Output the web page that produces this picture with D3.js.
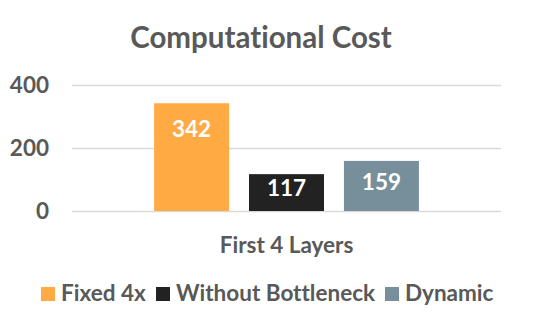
<!DOCTYPE html>
<html>
<head>
<meta charset="utf-8">
<script src="https://cdn.jsdelivr.net/npm/d3@7"></script>
<style>
  body { margin: 0; background: #fff; }
  svg text { font-family: Lato, "Open Sans", sans-serif; font-weight: bold; font-variant-ligatures: none; }
</style>
</head>
<body>
<div class="chart-area"></div>
<script>
// chart data
const categories = ["First 4 Layers"];
const seriesNames = ["Fixed 4x", "Without Bottleneck", "Dynamic"];
const seriesValues = [342, 117, 159];
const seriesColors = ["#FFAA42", "#222222", "#778F9A"];
const yTicks = [0, 200, 400];

const width = 543, height = 327;
const margin = {top: 85, right: 42, bottom: 116, left: 72};
const fs = "22.5px";

const svg = d3.select(".chart-area").append("svg")
  .attr("width", width)
  .attr("height", height);

const x = d3.scaleBand()
  .domain(categories)
  .range([margin.left, width - margin.right])
  .paddingOuter(0.31);

const xs = d3.scaleBand()
  .domain(seriesNames)
  .range([0, x.bandwidth()])
  .paddingInner(0.21);

const y = d3.scaleLinear()
  .domain([0, 400])
  .range([height - margin.bottom, margin.top]);

// title
svg.append("text")
  .attr("x", 261)
  .attr("y", 48)
  .attr("text-anchor", "middle")
  .attr("fill", "#595959")
  .style("font-size", "29.5px")
  .text("Computational Cost");

// y axis with gridlines
const yAxis = svg.append("g")
  .attr("transform", `translate(${margin.left},0)`)
  .call(d3.axisLeft(y).tickValues(yTicks).tickSize(-(width - margin.left - margin.right)).tickPadding(23));
yAxis.select(".domain").remove();
yAxis.selectAll("line").attr("stroke", "#D9D9D9").attr("stroke-width", 1.5);
yAxis.selectAll("text").attr("fill", "#595959").style("font-size", fs);

// bars
const g = svg.append("g");
seriesNames.forEach((s, i) => {
  const bx = x(categories[0]) + xs(s);
  const top = y(seriesValues[i]);
  g.append("rect")
    .attr("x", bx)
    .attr("y", top)
    .attr("width", xs.bandwidth())
    .attr("height", y(0) - top)
    .attr("fill", seriesColors[i]);
  // inside end label, pulled up for short bars
  const ly = Math.min(top + 25.5, (top + y(0)) / 2 - 4);
  g.append("text")
    .attr("x", bx + xs.bandwidth() / 2)
    .attr("y", ly)
    .attr("dy", "0.35em")
    .attr("text-anchor", "middle")
    .attr("fill", "#fff")
    .style("font-size", fs)
    .text(seriesValues[i]);
});

// x axis label
svg.append("text")
  .attr("x", x(categories[0]) + x.bandwidth() / 2)
  .attr("y", 253)
  .attr("text-anchor", "middle")
  .attr("fill", "#595959")
  .style("font-size", fs)
  .text(categories[0]);

// legend
const legendX = [41, 156, 385];
const legend = svg.append("g");
seriesNames.forEach((s, i) => {
  legend.append("rect")
    .attr("x", legendX[i])
    .attr("y", 287)
    .attr("width", 14)
    .attr("height", 14)
    .attr("fill", seriesColors[i]);
  legend.append("text")
    .attr("x", legendX[i] + 20)
    .attr("y", 301)
    .attr("fill", "#595959")
    .style("font-size", fs)
    .text(s);
});
</script>
</body>
</html>
